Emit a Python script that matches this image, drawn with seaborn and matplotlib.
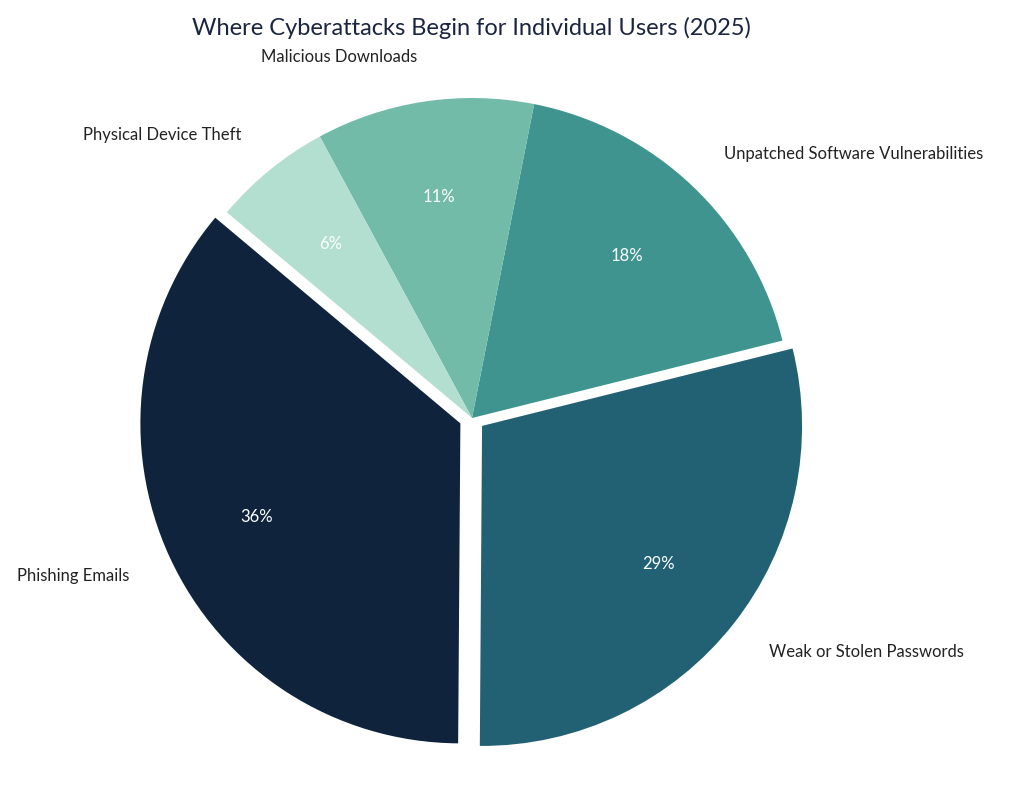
import matplotlib
matplotlib.use("Agg")
import matplotlib.pyplot as plt
import seaborn as sns

sns.set_theme(style="white")
plt.rcParams['font.family'] = ['Lato', 'DejaVu Sans']

categories = ["Phishing Emails", "Weak or Stolen Passwords", "Unpatched Software Vulnerabilities",
              "Malicious Downloads", "Physical Device Theft"]
values = [36, 29, 18, 11, 6]
colors = ["#0f233d", "#216173", "#3f9490", "#72bba8", "#b3dfd0"]
explode = [0.04, 0.04, 0, 0, 0]

W, H = 1024, 796
R = 320
cx, cy = 472, H - 418
half = 1.45 * R
fig = plt.figure(figsize=(W / 100, H / 100), dpi=100)
ax = fig.add_axes([(cx - half) / W, (cy - half) / H, 2 * half / W, 2 * half / H])
wedges, texts, autotexts = ax.pie(values, labels=categories, colors=colors, explode=explode,
                                  startangle=140, counterclock=True, autopct='%d%%',
                                  pctdistance=0.7, labeldistance=1.14,
                                  wedgeprops=dict(linewidth=0),
                                  textprops=dict(fontsize=12, color="#222222"))
for t in autotexts:
    t.set_color("white")
    t.set_fontsize(12)
ax.set_xlim(-1.45, 1.45)
ax.set_ylim(-1.45, 1.45)
ax.set_aspect('equal')
ax.axis('off')
fig.text(0.46, 0.965, "Where Cyberattacks Begin for Individual Users (2025)", fontsize=17,
         color="#1a2540", ha="center", va="center")
fig.savefig("out.png", dpi=100, facecolor="white")
